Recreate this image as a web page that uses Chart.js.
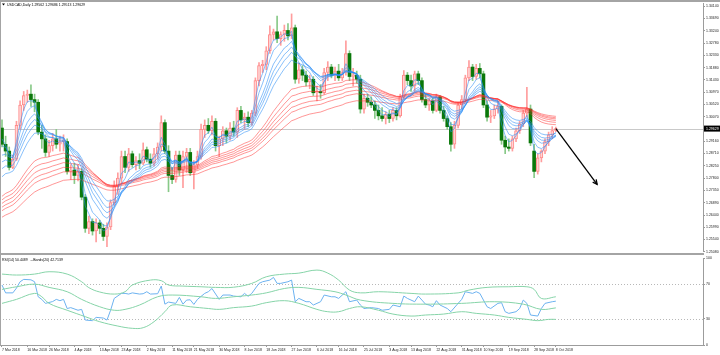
<!DOCTYPE html>
<html><head><meta charset="utf-8">
<script src="https://cdn.jsdelivr.net/npm/chart.js@4.4.1/dist/chart.umd.min.js"></script>
<style>
html,body{margin:0;padding:0;background:#fff;overflow:hidden}
#wrap{position:relative;width:720px;height:355px;background:#fff}
canvas{position:absolute;left:0}
#c1{top:0}
#c2{top:255px}
.ln{position:absolute;background:#a4a4a4}
</style></head><body>
<div id="wrap">
<canvas id="c1" width="720" height="255"></canvas>
<canvas id="c2" width="720" height="100"></canvas>
<div class="ln" style="left:0;top:0;width:720px;height:2px"></div>
<div class="ln" style="left:0;top:253px;width:704px;height:2px"></div>
<div class="ln" style="left:0;top:0;width:1px;height:346px"></div>
</div>
<script>
// ---------- data ----------
const symbolTitle = "USDCAD,Daily";
const opens = [1.2965,1.2905,1.2880,1.2820,1.2850,1.2975,1.3050,1.3085,1.3090,1.3070,
1.3060,1.2950,1.2925,1.2875,1.2900,1.2925,1.2905,1.2915,1.2915,1.2805,
1.2810,1.2790,1.2805,1.2710,1.2595,1.2620,1.2585,1.2615,1.2595,1.2565,
1.2600,1.2690,1.2750,1.2780,1.2860,1.2820,1.2870,1.2830,1.2845,1.2835,
1.2885,1.2850,1.2835,1.2870,1.2895,1.2985,1.2880,1.2790,1.2775,1.2865,
1.2810,1.2860,1.2875,1.2800,1.2830,1.2860,1.2960,1.2975,1.2955,1.2990,
1.2900,1.2925,1.2955,1.2935,1.2965,1.2950,1.3030,1.2995,1.3005,1.2985,
1.3020,1.3140,1.3195,1.3200,1.3250,1.3310,1.3320,1.3295,1.3310,1.3325,
1.3305,1.3335,1.3145,1.3180,1.3160,1.3135,1.3145,1.3095,1.3100,1.3095,
1.3170,1.3190,1.3160,1.3175,1.3150,1.3170,1.3240,1.3155,1.3160,1.3145,
1.3035,1.3075,1.3060,1.3050,1.3030,1.3010,1.3000,1.3015,1.3000,1.3030,
1.3010,1.3080,1.3160,1.3140,1.3120,1.3165,1.3140,1.3070,1.3050,1.3065,
1.3030,1.3080,1.3030,1.3000,1.2970,1.2905,1.2975,1.3050,1.3070,1.3150,
1.3190,1.3155,1.3185,1.3165,1.3050,1.3005,1.3010,1.3035,1.3045,1.2920,
1.2895,1.2890,1.2925,1.2955,1.2980,1.3020,1.3035,1.2880,1.2805,1.2855,
1.2880,1.2915,1.2940,1.29562];
const highs = [1.2995,1.2935,1.2895,1.2865,1.2990,1.3065,1.3100,1.3105,1.3124,1.3090,
1.3070,1.2975,1.2940,1.2920,1.2945,1.2960,1.2935,1.2940,1.2925,1.2830,
1.2835,1.2830,1.2815,1.2720,1.2640,1.2630,1.2630,1.2625,1.2610,1.2615,
1.2700,1.2770,1.2800,1.2880,1.2880,1.2890,1.2880,1.2860,1.2870,1.2910,
1.2895,1.2870,1.2890,1.2910,1.3010,1.2995,1.2900,1.2820,1.2880,1.2880,
1.2880,1.2890,1.2890,1.2845,1.2880,1.2980,1.2995,1.3000,1.3010,1.3000,
1.2935,1.2970,1.2965,1.2985,1.2990,1.3040,1.3045,1.3020,1.3025,1.3030,
1.3150,1.3206,1.3215,1.3265,1.3342,1.3330,1.3378,1.3320,1.3345,1.3350,
1.3386,1.3345,1.3205,1.3195,1.3175,1.3160,1.3155,1.3120,1.3125,1.3185,
1.3210,1.3200,1.3190,1.3200,1.3185,1.3287,1.3250,1.3185,1.3175,1.3160,
1.3090,1.3090,1.3080,1.3065,1.3050,1.3040,1.3025,1.3030,1.3040,1.3040,
1.3090,1.3177,1.3170,1.3160,1.3175,1.3175,1.3150,1.3090,1.3075,1.3075,
1.3090,1.3085,1.3045,1.3010,1.2985,1.2990,1.3060,1.3085,1.3160,1.3214,
1.3200,1.3200,1.3203,1.3175,1.3065,1.3030,1.3050,1.3065,1.3050,1.2935,
1.2925,1.2935,1.2965,1.2990,1.3030,1.3115,1.3050,1.2905,1.2870,1.2885,
1.2925,1.2950,1.2970,1.29686];
const lows = [1.2895,1.2860,1.2810,1.2815,1.2845,1.2960,1.3030,1.3060,1.3045,1.3025,
1.2940,1.2890,1.2860,1.2860,1.2880,1.2890,1.2880,1.2880,1.2795,1.2775,
1.2760,1.2770,1.2700,1.2580,1.2575,1.2570,1.2545,1.2575,1.2550,1.2527,
1.2590,1.2680,1.2720,1.2760,1.2800,1.2805,1.2820,1.2810,1.2815,1.2830,
1.2840,1.2820,1.2825,1.2850,1.2880,1.2870,1.2730,1.2760,1.2765,1.2790,
1.2745,1.2800,1.2790,1.2740,1.2815,1.2850,1.2930,1.2945,1.2940,1.2880,
1.2860,1.2900,1.2910,1.2920,1.2935,1.2930,1.2985,1.2960,1.2970,1.2975,
1.3010,1.3120,1.3170,1.3180,1.3240,1.3290,1.3280,1.3270,1.3285,1.3290,
1.3295,1.3130,1.3130,1.3140,1.3120,1.3110,1.3085,1.3065,1.3075,1.3090,
1.3140,1.3150,1.3140,1.3140,1.3140,1.3160,1.3140,1.3120,1.3130,1.3020,
1.3020,1.3045,1.3040,1.3000,1.2995,1.2990,1.2980,1.2985,1.2990,1.2995,
1.3005,1.3075,1.3125,1.3100,1.3100,1.3125,1.3060,1.3040,1.3030,1.3020,
1.3025,1.3020,1.2990,1.2960,1.2880,1.2890,1.2965,1.3035,1.3060,1.3140,
1.3140,1.3145,1.3150,1.3040,1.2990,1.2985,1.3000,1.3020,1.2905,1.2870,
1.2880,1.2880,1.2915,1.2945,1.2970,1.3005,1.2900,1.2782,1.2795,1.2840,
1.2870,1.2900,1.2925,1.29513];
const closes = [1.2905,1.2880,1.2820,1.2850,1.2975,1.3050,1.3085,1.3090,1.3070,1.3060,
1.2950,1.2925,1.2875,1.2900,1.2925,1.2905,1.2915,1.2920,1.2805,1.2810,
1.2790,1.2805,1.2710,1.2595,1.2620,1.2585,1.2615,1.2595,1.2565,1.2600,
1.2690,1.2750,1.2780,1.2860,1.2820,1.2870,1.2830,1.2845,1.2835,1.2885,
1.2850,1.2835,1.2870,1.2895,1.2985,1.2880,1.2790,1.2775,1.2865,1.2810,
1.2860,1.2875,1.2800,1.2830,1.2860,1.2960,1.2975,1.2955,1.2990,1.2900,
1.2925,1.2955,1.2935,1.2965,1.2950,1.3030,1.2995,1.3005,1.2985,1.3020,
1.3140,1.3195,1.3200,1.3250,1.3310,1.3320,1.3295,1.3310,1.3325,1.3305,
1.3335,1.3145,1.3180,1.3160,1.3135,1.3145,1.3095,1.3100,1.3095,1.3170,
1.3190,1.3160,1.3175,1.3150,1.3170,1.3240,1.3155,1.3160,1.3145,1.3035,
1.3075,1.3060,1.3050,1.3030,1.3010,1.3000,1.3015,1.3000,1.3030,1.3010,
1.3080,1.3160,1.3140,1.3120,1.3165,1.3140,1.3070,1.3050,1.3065,1.3030,
1.3080,1.3030,1.3000,1.2970,1.2905,1.2975,1.3050,1.3070,1.3150,1.3190,
1.3155,1.3185,1.3165,1.3050,1.3005,1.3010,1.3035,1.3045,1.2920,1.2895,
1.2890,1.2925,1.2955,1.2980,1.3020,1.3035,1.2910,1.2805,1.2855,1.2880,
1.2915,1.2940,1.2956,1.29629];

// date tick labels (bar index -> label)
const dateTickBars = [0,7,13,20,27,33,40,47,53,60,67,73,80,87,93,100,107,113,120,127,133,140,147,153];
const dateTickLabels = ["7 Mar 2018","16 Mar 2018","26 Mar 2018","4 Apr 2018","13 Apr 2018","23 Apr 2018","2 May 2018","11 May 2018","21 May 2018","30 May 2018","8 Jun 2018","18 Jun 2018","27 Jun 2018","6 Jul 2018","16 Jul 2018","25 Jul 2018","3 Aug 2018","13 Aug 2018","22 Aug 2018","31 Aug 2018","10 Sep 2018","19 Sep 2018","28 Sep 2018","8 Oct 2018"];
const priceTickLabels = ["1.34140","1.33690","1.33240","1.32780","1.32330","1.31880","1.31430","1.30970","1.30520","1.30070","1.29160","1.28710","1.28250","1.27800","1.27350","1.26890","1.26440","1.25990","1.25540","1.25080"];

// Guppy multiple moving averages (EMA) with their values at the first visible bar
const shortPeriods = [3,5,8,10,12,15];
const shortStart   = [1.2925,1.2900,1.2865,1.2840,1.2815,1.2785];
const longPeriods  = [30,35,40,45,50,60];
const longStart    = [1.2713,1.2700,1.2687,1.2673,1.2660,1.2636];

// RSI(14) and its bands, sampled from the lower panel
const rsiBars   = [0,1,3,4,5,6,8,9,10,11,12,14,15,16,17,18,19,21,22,23,25,26,28,29,30,31,33,34,35,36,38,39,40,41,43,44,45,46,48,49,50,51,52,53,54,56,57,58,60,61,63,64,66,67,68,69,71,72,74,75,76,77,79,80,81,82,84,85,86,88,89,91,92,93,95,96,98,99,100,102,104,105,107,108,110,111,112,114,115,116,117,118,119,120,121,123,124,126,127,128,130,131,132,134,135,137,138,139,140,142,143,144,145,146,148,149,150,152,153];
const rsiValues = [69,60,60,65.5,72.8,75.5,75,72.8,55.5,52.5,47.9,50,52.5,51,52.5,42,43,40,41,28.7,28,31.8,31,28.7,40,53.6,59.4,59.4,58.6,60,58.6,59,61.3,58.6,59,67.8,47,49.4,47.9,54.8,47,51.7,52,46.7,52.5,59.4,61.3,65,52.5,57.5,57.5,56.3,55.5,59.4,56,59.4,70.9,72.8,74.7,77.8,70.9,70.9,72.8,74.7,49.8,53.6,49.8,49.8,46,49.8,57.5,55.5,55.5,53.6,61.3,49.8,51.7,46,42,43,42,40,41,46,44,56.3,53.6,49.8,56.3,51.7,47,46,44,51,46,42,38.3,47.9,52.5,61.3,59.4,61.3,59.4,44,42,47.9,48.7,38.3,36.4,38.3,42,51.7,47.9,34.5,33.3,42,47.9,49.8,50.4489];
const bandUpBars   = [0,4,9,13,18,22,24,27,31,34,36,41,44,46,50,55,59,64,69,73,78,82,87,90,93,96,99,104,113,117,126,129,134,140,145,147,149,153];
const bandUpValues = [81.6,80.5,81.6,84.3,81.6,72.8,66,61,58.6,61.3,69,74.7,74,69,67.8,67,66.3,66.5,70.9,78.5,81.6,82.7,86.2,82.7,74.7,63.2,60,61.3,59.4,58.6,60,63.2,66.3,67,67,64,53.6,55.5];
const bandMidBars   = [0,4,9,13,18,22,27,31,34,38,43,47,55,59,64,69,73,78,82,87,92,95,99,108,117,127,136,144,149,153];
const bandMidValues = [64,67,70,66.3,61.3,52.5,44,40,41,46,55.5,57.5,55.5,53.6,55.5,57.5,60,65,66.3,64,61.3,57.5,51.7,47.9,47,47.9,49.8,47,41,42.7139];
const bandLowBars   = [0,4,9,11,13,18,23,27,32,36,39,42,45,47,52,57,60,64,69,73,78,82,87,90,93,96,99,104,108,113,117,122,127,131,136,140,145,148,151,153];
const bandLowValues = [47.9,52.5,59.4,55.5,47.9,40,32.6,26.8,21.8,19.2,19.9,26.8,38.3,46,44,42,41,43,44.8,48.7,51,47.9,41,38.3,38.3,42,44,40,35.6,33.3,34.5,35.6,38.3,36.4,34.5,31.8,29.5,28,29.5,29.5];
const rsiTickValues = [0,30,70,100];
const rsiLevels = [70,30];

// drawn trend arrow (bar index, price)
const arrowBars   = [153, 164.4];
const arrowPrices = [1.29629, 1.2757];

// ---------- helpers ----------
function ema(values, period, start){
  const k = 2/(period+1); const out=[start];
  for(let i=1;i<values.length;i++) out.push(values[i]*k + out[i-1]*(1-k));
  return out;
}
const pts = (xs, ys) => xs.map((x,i)=>({x:x, y:ys[i]}));
const N = closes.length;
const isBull = i => closes[i] >= opens[i];
const X_MIN = -0.55, X_MAX = 193.65;
const P_MIN = 1.2508, P_MAX = 1.34259;
const FONT = '"Liberation Sans", Arial, sans-serif';
const FS = 3.5;
Chart.defaults.font.family = FONT;
Chart.defaults.animation = false;

const idx = closes.map((c,i)=>i);
const shortLines = shortPeriods.map((p,k)=>({type:'line', data: pts(idx, ema(closes,p,shortStart[k])), borderColor:'rgba(40,140,245,0.55)', borderWidth:1, pointRadius:0, tension:0, order:2}));
const longLines  = longPeriods.map((p,k)=>({type:'line', data: pts(idx, ema(closes,p,longStart[k])), borderColor:'rgba(255,45,45,0.5)', borderWidth:1, pointRadius:0, tension:0, order:3}));

const mainPlugin = {
  id:'mainPlugin',
  beforeDatasetsDraw(chart){
    const {ctx, chartArea:a, scales:{y}} = chart;
    const py = Math.round(y.getPixelForValue(closes[N-1]))+0.5;
    ctx.save(); ctx.strokeStyle='#c9c9c9'; ctx.lineWidth=1;
    ctx.beginPath(); ctx.moveTo(a.left,py); ctx.lineTo(a.right,py); ctx.stroke(); ctx.restore();
  },
  afterDraw(chart){
    const {ctx, chartArea:a, scales:{x,y}} = chart;
    ctx.save();
    const x0=x.getPixelForValue(arrowBars[0]), y0=y.getPixelForValue(arrowPrices[0]);
    const x1=x.getPixelForValue(arrowBars[1]), y1=y.getPixelForValue(arrowPrices[1]);
    const ang=Math.atan2(y1-y0,x1-x0), L=5;
    ctx.strokeStyle='#000'; ctx.lineWidth=1.3;
    ctx.beginPath();
    ctx.moveTo(x1-L*Math.cos(ang-0.45), y1-L*Math.sin(ang-0.45)); ctx.lineTo(x1,y1);
    ctx.lineTo(x1-L*Math.cos(ang+0.45), y1-L*Math.sin(ang+0.45));
    ctx.stroke();
    const py=y.getPixelForValue(closes[N-1]);
    ctx.fillStyle='#000'; ctx.fillRect(a.right+1, py-3, 17, 6);
    ctx.fillStyle='#fff'; ctx.font=FS+'px '+FONT; ctx.textBaseline='middle'; ctx.textAlign='left';
    ctx.fillText(closes[N-1].toFixed(5), a.right+3, py+0.3);
    ctx.fillStyle='#000';
    ctx.beginPath(); ctx.moveTo(2,3.5); ctx.lineTo(5,3.5); ctx.lineTo(3.5,5.5); ctx.closePath(); ctx.fill();
    ctx.fillText(symbolTitle+' '+opens[N-1].toFixed(5)+' '+highs[N-1].toFixed(5)+' '+lows[N-1].toFixed(5)+' '+closes[N-1].toFixed(5), 7, 4.6);
    ctx.restore();
  }
};

new Chart(document.getElementById('c1'), {
  type:'bar',
  data:{ datasets:[
    {type:'bar', data: closes.map((c,i)=>({x:i, y:[lows[i], highs[i]]})), barThickness:1, grouped:false,
     backgroundColor: c=> isBull(c.dataIndex)?'#ff9d9d':'#88c988', order:6},
    {type:'bar', data: closes.map((c,i)=>({x:i, y:[opens[i], c]})), barThickness:3, grouped:false, minBarLength:1,
     borderSkipped:false, borderWidth: c=> isBull(c.dataIndex)?1:0,
     borderColor: c=> isBull(c.dataIndex)?'#ff8a8a':'#0a780a',
     backgroundColor: c=> isBull(c.dataIndex)?'#ffd4d4':'#0a780a', order:5},
    ...longLines, ...shortLines,
    {type:'line', data: pts(arrowBars, arrowPrices), borderColor:'#000', borderWidth:1.3, pointRadius:0, order:1}
  ]},
  options:{
    responsive:false, maintainAspectRatio:false,
    layout:{padding:{top:2,bottom:2,left:0,right:0}},
    plugins:{legend:{display:false}, tooltip:{enabled:false}},
    scales:{
      x:{type:'linear', min:X_MIN, max:X_MAX, offset:false, display:false},
      y:{position:'right', min:P_MIN, max:P_MAX,
         afterFit(s){ s.width=17; },
         afterBuildTicks(s){ s.ticks = priceTickLabels.map(t=>({value:parseFloat(t)})); },
         ticks:{autoSkip:false, font:{size:FS}, color:'#222', padding:1, callback:v=>v.toFixed(5)},
         grid:{drawOnChartArea:false, tickLength:2, color:'#999'},
         border:{display:true, color:'#9c9c9c', width:1}}
    }
  },
  plugins:[mainPlugin]
});

const rsiPlugin = {
  id:'rsiPlugin',
  beforeDatasetsDraw(chart){
    const {ctx, chartArea:a, scales:{y}} = chart;
    ctx.save(); ctx.strokeStyle='#b8b8b8'; ctx.lineWidth=1; ctx.setLineDash([1,2]);
    rsiLevels.forEach(v=>{ const py=Math.round(y.getPixelForValue(v))+0.5; ctx.beginPath(); ctx.moveTo(a.left,py); ctx.lineTo(a.right,py); ctx.stroke(); });
    ctx.restore();
  },
  afterDraw(chart){
    const {ctx} = chart;
    ctx.save(); ctx.fillStyle='#000'; ctx.font=FS+'px '+FONT; ctx.textBaseline='middle';
    ctx.fillText('RSI(14) '+rsiValues[rsiValues.length-1].toFixed(4)+'  \u2194Bands(20) '+bandMidValues[bandMidValues.length-1].toFixed(4), 2, 5);
    ctx.restore();
  }
};

new Chart(document.getElementById('c2'), {
  type:'line',
  data:{ datasets:[
    {data: pts(bandUpBars, bandUpValues), borderColor:'#86d4a8', borderWidth:1, pointRadius:0, tension:0.4},
    {data: pts(bandMidBars, bandMidValues), borderColor:'#86d4a8', borderWidth:1, pointRadius:0, tension:0.4},
    {data: pts(bandLowBars, bandLowValues), borderColor:'#86d4a8', borderWidth:1, pointRadius:0, tension:0.4},
    {data: pts(rsiBars, rsiValues), borderColor:'#6cb2f0', borderWidth:1, pointRadius:0, tension:0}
  ]},
  options:{
    responsive:false, maintainAspectRatio:false,
    layout:{padding:{top:3,bottom:0,left:0,right:0}},
    plugins:{legend:{display:false}, tooltip:{enabled:false}},
    scales:{
      x:{type:'linear', min:X_MIN, max:X_MAX, offset:false,
         afterFit(s){ s.height=10; },
         afterBuildTicks(s){ s.ticks = dateTickBars.map(v=>({value:v})); },
         ticks:{autoSkip:false, maxRotation:0, align:'start', font:{size:FS}, color:'#222', padding:1,
                callback:(v,i)=>dateTickLabels[i]},
         grid:{drawOnChartArea:false, tickLength:2, color:'#999'},
         border:{display:true, color:'#9c9c9c', width:1}},
      y:{position:'right', min:0, max:100,
         afterFit(s){ s.width=17; },
         afterBuildTicks(s){ s.ticks = rsiTickValues.map(v=>({value:v})); },
         ticks:{autoSkip:false, font:{size:FS}, color:'#222', padding:1},
         grid:{drawOnChartArea:false, tickLength:2, color:'#999'},
         border:{display:true, color:'#9c9c9c', width:1}}
    }
  },
  plugins:[rsiPlugin]
});
</script>
</body></html>
